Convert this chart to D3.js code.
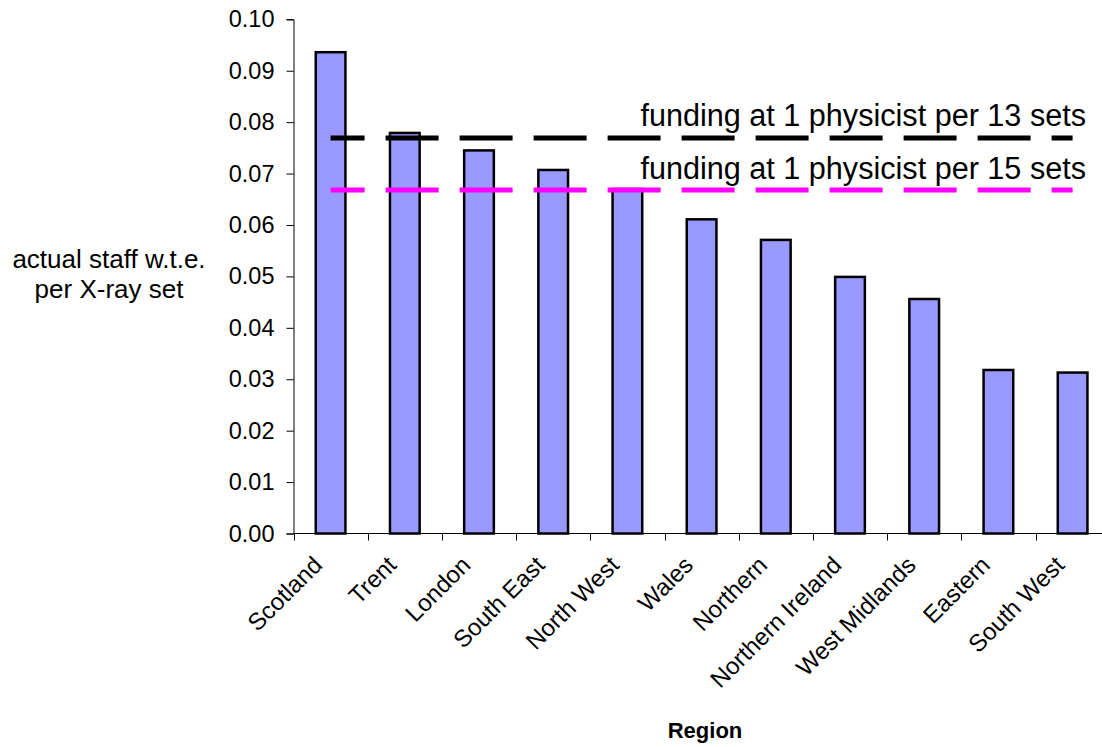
<!DOCTYPE html>
<html>
<head>
<meta charset="utf-8">
<script src="https://cdn.jsdelivr.net/npm/d3@7"></script>
<style>
  html, body { margin: 0; padding: 0; background: #fff; }
  text { font-family: "Liberation Sans", Arial, sans-serif; fill: #000; }
</style>
</head>
<body>
<svg id="chart"></svg>
<script>
// regions and staff per set
var regions = ["Scotland", "Trent", "London", "South East", "North West", "Wales",
               "Northern", "Northern Ireland", "West Midlands", "Eastern", "South West"];
var staffPerSet = [0.0936, 0.0779, 0.0745, 0.0707, 0.0670, 0.0611,
                   0.0571, 0.0499, 0.0456, 0.0318, 0.0313];
// funding reference levels
var fundingLabels = ["funding at 1 physicist per 13 sets", "funding at 1 physicist per 15 sets"];
var fundingValues = [0.0769, 0.0668];
var yTicks = [0, 0.01, 0.02, 0.03, 0.04, 0.05, 0.06, 0.07, 0.08, 0.09, 0.10];

var width = 1102, height = 747;
var x0 = 293.5, step = 74.2;
var yTop = 19.3, yBottom = 533.5;
var lineColors = ["#000000", "#ff00ff"];
var labelY = [125.5, 178.5];

var svg = d3.select("#chart")
    .attr("width", width)
    .attr("height", height);

var x = d3.scaleBand()
    .domain(regions)
    .range([x0, x0 + step * regions.length])
    .paddingInner(0.6)
    .paddingOuter(0.3);

var y = d3.scaleLinear()
    .domain([0, 0.10])
    .range([yBottom, yTop]);

// y axis
var yAxis = svg.append("g")
    .attr("transform", "translate(" + x0 + ",0)")
    .call(d3.axisLeft(y).tickValues(yTicks).tickFormat(d3.format(".2f")).tickSize(7).tickPadding(12));
yAxis.select(".domain").attr("stroke", "#000");
yAxis.selectAll(".tick line").attr("stroke", "#000");
yAxis.selectAll(".tick text")
    .style("font-size", "23.5px")
    .style("font-family", "Liberation Sans, Arial, sans-serif")
    .attr("fill", "#000");

// bars
svg.append("g").selectAll("rect")
    .data(regions)
    .enter().append("rect")
    .attr("x", function(d) { return x(d); })
    .attr("y", function(d, i) { return y(staffPerSet[i]); })
    .attr("width", x.bandwidth())
    .attr("height", function(d, i) { return y(0) - y(staffPerSet[i]); })
    .attr("fill", "#9999ff")
    .attr("stroke", "#000")
    .attr("stroke-width", 2.5);

// x axis line and ticks at category boundaries
svg.append("line")
    .attr("x1", x0).attr("x2", width)
    .attr("y1", yBottom).attr("y2", yBottom)
    .attr("stroke", "#000");
svg.append("g").selectAll("line")
    .data(regions)
    .enter().append("line")
    .attr("x1", function(d) { return Math.round(x(d) - x.step() * 0.3) + 0.5; })
    .attr("x2", function(d) { return Math.round(x(d) - x.step() * 0.3) + 0.5; })
    .attr("y1", yBottom).attr("y2", yBottom + 7)
    .attr("stroke", "#000");

// category labels
svg.append("g").selectAll("text")
    .data(regions)
    .enter().append("text")
    .attr("transform", function(d) {
        return "translate(" + (x(d) + x.bandwidth() / 2 - 7) + "," + (yBottom + 33) + ") rotate(-45)";
    })
    .attr("text-anchor", "end")
    .style("font-size", "24px")
    .text(function(d) { return d; });

// funding lines
var first = regions[0], last = regions[regions.length - 1];
fundingValues.forEach(function(v, i) {
    svg.append("line")
        .attr("x1", x(first) + x.bandwidth() / 2)
        .attr("x2", x(last) + x.bandwidth() / 2)
        .attr("y1", y(v)).attr("y2", y(v))
        .attr("stroke", lineColors[i])
        .attr("stroke-width", 5)
        .attr("stroke-dasharray", "53,21")
        .attr("stroke-dashoffset", 19);
    svg.append("text")
        .attr("x", 1086)
        .attr("y", labelY[i])
        .attr("text-anchor", "end")
        .style("font-size", "30.6px")
        .text(fundingLabels[i]);
});

// axis titles
var yTitle = svg.append("text")
    .attr("text-anchor", "middle")
    .style("font-size", "26px");
yTitle.append("tspan").attr("x", 109).attr("y", 268).text("actual staff w.t.e.");
yTitle.append("tspan").attr("x", 109).attr("y", 298).text("per X-ray set");

svg.append("text")
    .attr("x", 705)
    .attr("y", 738)
    .attr("text-anchor", "middle")
    .style("font-size", "22px")
    .style("font-weight", "bold")
    .text("Region");
</script>
</body>
</html>
